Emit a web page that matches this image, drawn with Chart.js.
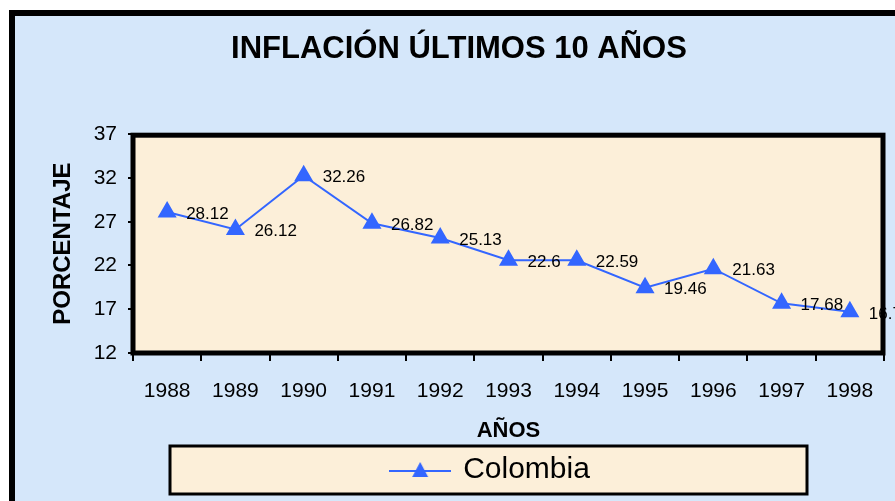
<!DOCTYPE html>
<html>
<head>
<meta charset="utf-8">
<script src="https://cdn.jsdelivr.net/npm/chart.js@4/dist/chart.umd.min.js"></script>
<style>
  html, body { margin: 0; padding: 0; background: #fff; overflow: hidden; }
  #wrap { width: 895px; height: 501px; }
</style>
</head>
<body>
<div id="wrap"><canvas id="chart" width="895" height="501"></canvas></div>
<script>
const years = ['1988', '1989', '1990', '1991', '1992', '1993', '1994', '1995', '1996', '1997', '1998'];
const inflation = [28.12, 26.12, 32.26, 26.82, 25.13, 22.6, 22.59, 19.46, 21.63, 17.68, 16.7];
const yTicks = [12, 17, 22, 27, 32, 37];

const blue = '#3366ff';
const font = 'Liberation Sans, Arial, sans-serif';
Chart.defaults.font.family = font;
Chart.defaults.color = '#000';

// legend marker: line with a triangle in the middle
const marker = document.createElement('canvas');
marker.width = 62;
marker.height = 20;
(() => {
  const c = marker.getContext('2d');
  c.strokeStyle = blue;
  c.lineWidth = 2;
  c.beginPath();
  c.moveTo(0, 11);
  c.lineTo(62, 11);
  c.stroke();
  c.fillStyle = blue;
  c.beginPath();
  c.moveTo(31, 2);
  c.lineTo(39, 17);
  c.lineTo(23, 17);
  c.closePath();
  c.fill();
})();

const backdrop = {
  id: 'backdrop',
  afterLayout(chart) {
    // move legend a bit to the right like the original
    chart.legend.left += 32;
    chart.legend.right += 32;
  },
  beforeDraw(chart) {
    const { ctx, chartArea: a } = chart;
    ctx.save();
    ctx.fillStyle = '#fff';
    ctx.fillRect(0, 0, chart.width, chart.height);
    ctx.fillStyle = '#000';
    ctx.fillRect(9, 10, chart.width, chart.height);
    ctx.fillStyle = '#d5e7fa';
    ctx.fillRect(15, 16, chart.width, chart.height);
    ctx.fillStyle = '#fcefd9';
    ctx.fillRect(a.left, a.top, a.right - a.left, a.bottom - a.top);
    // legend box
    ctx.fillRect(170, 446, 637, 48);
    ctx.strokeStyle = '#000';
    ctx.lineWidth = 3;
    ctx.strokeRect(170, 446, 637, 48);
    ctx.restore();
  },
  afterDatasetsDraw(chart) {
    const { ctx } = chart;
    const meta = chart.getDatasetMeta(0);
    ctx.save();
    ctx.font = '17px ' + font;
    ctx.fillStyle = '#000';
    ctx.textAlign = 'left';
    ctx.textBaseline = 'middle';
    meta.data.forEach((pt, i) => {
      ctx.fillText(String(inflation[i]), pt.x + 19, pt.y + 2);
    });
    ctx.restore();
  },
  afterDraw(chart) {
    const { ctx, chartArea: a } = chart;
    ctx.save();
    ctx.strokeStyle = '#000';
    ctx.lineWidth = 5;
    ctx.strokeRect(a.left, a.top + 1, a.right - a.left - 1, a.bottom - a.top - 1);
    ctx.restore();
  }
};

new Chart(document.getElementById('chart'), {
  type: 'line',
  data: {
    labels: years,
    datasets: [{
      label: 'Colombia',
      data: inflation,
      borderColor: blue,
      backgroundColor: blue,
      borderWidth: 2,
      pointStyle: 'triangle',
      pointRadius: 9,
      pointHoverRadius: 9,
      pointBackgroundColor: blue,
      pointBorderColor: blue,
      tension: 0
    }]
  },
  options: {
    responsive: false,
    animation: false,
    events: [],
    layout: { padding: { left: 34, right: 11, top: 12, bottom: 6 } },
    plugins: {
      title: {
        display: true,
        text: 'INFLACIÓN ÚLTIMOS 10 AÑOS',
        color: '#000',
        font: { size: 31, weight: 'bold' },
        padding: { top: 19, bottom: 66 }
      },
      legend: {
        position: 'bottom',
        labels: {
          usePointStyle: true,
          pointStyleWidth: 56,
          padding: 9,
          color: '#000',
          font: { size: 30 },
          generateLabels: (chart) => [{
            text: 'Colombia',
            pointStyle: marker,
            fillStyle: blue,
            strokeStyle: blue,
            lineWidth: 0,
            datasetIndex: 0
          }]
        }
      },
      tooltip: { enabled: false }
    },
    scales: {
      x: {
        offset: true,
        grid: { offset: true, drawOnChartArea: false, drawTicks: true, tickLength: 8, color: '#000', lineWidth: 2 },
        border: { display: false },
        ticks: { font: { size: 21 }, padding: 18, color: '#000', maxRotation: 0 },
        title: { display: true, text: 'AÑOS', color: '#000', font: { size: 22, weight: 'bold' }, padding: { top: 15, bottom: 2 } },
        afterFit: (s) => { s.height = 93; }
      },
      y: {
        min: 12,
        max: 37,
        afterBuildTicks: (s) => { s.ticks = yTicks.map(v => ({ value: v })); },
        grid: { drawOnChartArea: false, drawTicks: true, tickLength: 5, color: '#000', lineWidth: 2 },
        border: { display: false },
        ticks: { font: { size: 21 }, padding: 11, color: '#000' },
        title: { display: true, text: 'PORCENTAJE', color: '#000', font: { size: 24, weight: 'bold' }, padding: { top: 15, bottom: 0 } },
        afterFit: (s) => { s.width = 99; }
      }
    }
  },
  plugins: [backdrop]
});
</script>
</body>
</html>
